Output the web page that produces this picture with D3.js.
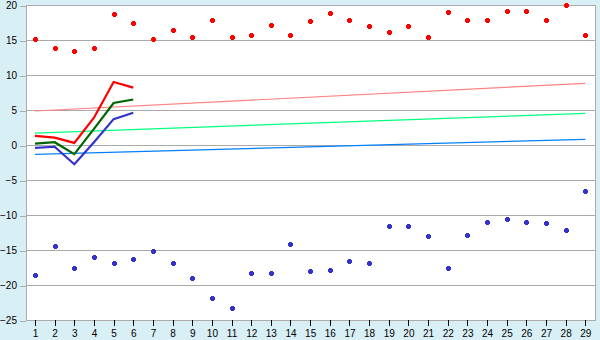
<!DOCTYPE html>
<html>
<head>
<meta charset="utf-8">
<script src="https://cdn.jsdelivr.net/npm/d3@7"></script>
<style>
  html, body { margin: 0; padding: 0; background: #d9eff6; }
  svg { display: block; }
</style>
</head>
<body>
<div id="chart"></div>
<script>
const categories = d3.range(1, 30);
const yTicks = [-25, -20, -15, -10, -5, 0, 5, 10, 15, 20];

// upper and lower scatter series, one value per category
const highPoints = [15.2, 13.8, 13.4, 13.8, 18.7, 17.5, 15.1, 16.4, 15.4, 17.9, 15.4, 15.7, 17.2, 15.7, 17.7,
  18.8, 17.8, 17.0, 16.2, 17.0, 15.4, 19.0, 17.9, 17.9, 19.1, 19.2, 17.8, 20.0, 15.7];
const lowPoints = [-18.6, -14.5, -17.6, -16.0, -16.8, -16.3, -15.2, -16.8, -19.0, -21.8, -23.3, -18.3, -18.3, -14.1, -18.0,
  -17.9, -16.6, -16.9, -11.6, -11.5, -13.0, -17.6, -12.8, -11.0, -10.6, -11.0, -11.2, -12.2, -6.6];

// short lines, categories 1..6
const lineCats = [1, 2, 3, 4, 5, 6];
const redLine = [1.3, 1.05, 0.3, 3.9, 9.0, 8.2];
const greenLine = [0.2, 0.4, -1.3, 2.3, 6.0, 6.5];
const blueLine = [-0.4, -0.25, -2.75, 0.4, 3.7, 4.6];

// trend lines, start (category 1) and end (category 29)
const trendCats = [1, 29];
const pinkTrend = [4.86, 8.81];
const mintTrend = [1.71, 4.52];
const skyTrend = [-1.33, 0.81];

const width = 600, height = 340;
const plot = { left: 26, right: 595, top: 5, bottom: 320 };

const svg = d3.select('#chart').append('svg').attr('width', width).attr('height', height)
  .style('font-family', '"DejaVu Sans", Verdana, sans-serif').style('font-size', '10.5px');

const x = d3.scalePoint(categories, [35, 585.3]);
const y = d3.scaleLinear([-25, 20], [plot.bottom, plot.top]);

svg.append('rect').attr('x', plot.left).attr('y', plot.top)
  .attr('width', plot.right - plot.left).attr('height', plot.bottom - plot.top).attr('fill', '#fff');

// gridlines + y ticks
const yAxis = svg.append('g').attr('transform', `translate(${plot.left},0.5)`)
  .call(d3.axisLeft(y).tickValues(yTicks).tickSize(6).tickPadding(3).tickFormat(d3.format('d')));
yAxis.select('.domain').remove();
yAxis.selectAll('line').attr('stroke', '#aaa').attr('shape-rendering', 'crispEdges');
yAxis.selectAll('text').attr('fill', '#000');
svg.append('g').attr('shape-rendering', 'crispEdges').selectAll('line').data(yTicks).join('line')
  .attr('x1', plot.left).attr('x2', plot.right)
  .attr('y1', (d) => y(d) + 0.5).attr('y2', (d) => y(d) + 0.5)
  .attr('stroke', '#aaa').attr('stroke-width', 1);

// x axis
const xAxis = svg.append('g').attr('transform', `translate(0,${plot.bottom})`)
  .call(d3.axisBottom(x).tickSize(6).tickPadding(4));
xAxis.select('.domain').remove();
xAxis.selectAll('line').attr('stroke', '#000').attr('shape-rendering', 'crispEdges');
xAxis.selectAll('text').attr('fill', '#000');

// frame
const frame = svg.append('g').attr('shape-rendering', 'crispEdges').attr('stroke', '#aaa');
frame.append('line').attr('x1', plot.left + 0.5).attr('x2', plot.left + 0.5).attr('y1', plot.top).attr('y2', plot.bottom + 1);
frame.append('line').attr('x1', plot.right + 0.5).attr('x2', plot.right + 0.5).attr('y1', plot.top).attr('y2', plot.bottom + 1);

const line = d3.line().x((d) => x(d[0])).y((d) => y(d[1]));

// trend lines
[[pinkTrend, '#ff8080'], [mintTrend, '#00ff80'], [skyTrend, '#0080ff']].forEach(([vals, c]) => {
  svg.append('path').datum(trendCats.map((k, i) => [k, vals[i]]))
    .attr('d', line).attr('fill', 'none').attr('stroke', c).attr('stroke-width', 1.2);
});

// short lines
[[redLine, '#ff0000'], [greenLine, '#006400'], [blueLine, '#3333cc']].forEach(([vals, c]) => {
  svg.append('path').datum(lineCats.map((k, i) => [k, vals[i]]))
    .attr('d', line).attr('fill', 'none').attr('stroke', c).attr('stroke-width', 2.2);
});

// plus-diamond marker
const marker = 'M-1.5,-2.5h3v1h1v3h-1v1h-3v-1h-1v-3h1z';
[[highPoints, '#ff0000'], [lowPoints, '#3333cc']].forEach(([vals, c]) => {
  svg.append('g').attr('shape-rendering', 'crispEdges').selectAll('path').data(vals).join('path')
    .attr('d', marker)
    .attr('transform', (d, i) => `translate(${Math.round(x(categories[i])) + 0.5},${Math.round(y(d)) + 0.5})`)
    .attr('fill', c);
});
</script>
</body>
</html>
